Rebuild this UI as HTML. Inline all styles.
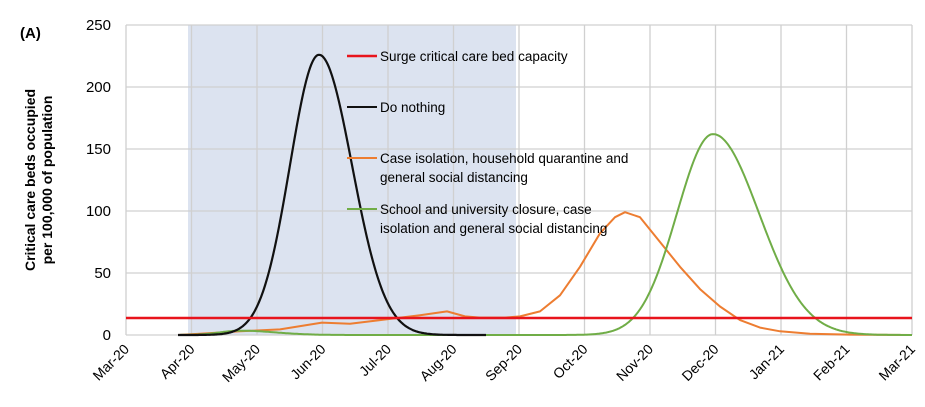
<!DOCTYPE html>
<html><head><meta charset="utf-8"><style>
body{margin:0;background:#fff;}
svg{font-family:"Liberation Sans",sans-serif;}
</style></head><body>
<svg id="s" width="925" height="402" xmlns="http://www.w3.org/2000/svg">
<rect x="188" y="25" width="328" height="310" fill="#dce3f0"/>
<g id="grid" stroke="#d0d0d0" stroke-width="1.3"></g>
<line x1="126" y1="25" x2="126" y2="335" stroke="#d0d0d0" stroke-width="1.3"/>
<g font-size="15" fill="#000" text-anchor="end">
<text x="111" y="30">250</text><text x="111" y="92">200</text><text x="111" y="154">150</text>
<text x="111" y="216">100</text><text x="111" y="278">50</text><text x="111" y="340">0</text>
</g>
<text x="20" y="38" font-size="15" font-weight="bold">(A)</text>
<g font-size="14" font-weight="bold" text-anchor="middle">
<text transform="translate(35,180) rotate(-90)">Critical care beds occupied</text>
<text transform="translate(52,180) rotate(-90)">per 100,000 of population</text>
</g>
<g id="xl" font-size="14" text-anchor="end"></g>
<path id="orange" fill="none" stroke="#ed7d31" stroke-width="2" stroke-linejoin="round"/>
<path id="green" fill="none" stroke="#70ad47" stroke-width="2"/>
<path id="black" fill="none" stroke="#111" stroke-width="2.2"/>
<line x1="126" y1="318" x2="912" y2="318" stroke="#e8141c" stroke-width="2.5"/>
<g font-size="13.5">
<line x1="347" y1="56" x2="377" y2="56" stroke="#e8141c" stroke-width="2.5"/>
<text x="380" y="61">Surge critical care bed capacity</text>
<line x1="347" y1="107" x2="377" y2="107" stroke="#111" stroke-width="2"/>
<text x="380" y="112">Do nothing</text>
<line x1="347" y1="158" x2="377" y2="158" stroke="#ed7d31" stroke-width="2"/>
<text x="380" y="163">Case isolation, household quarantine and</text>
<text x="380" y="182">general social distancing</text>
<line x1="347" y1="209" x2="377" y2="209" stroke="#70ad47" stroke-width="2"/>
<text x="380" y="214">School and university closure, case</text>
<text x="380" y="233">isolation and general social distancing</text>
</g>
</svg>
<script>
var ns="http://www.w3.org/2000/svg",g=document.getElementById('grid'),xl=document.getElementById('xl');
var labs=["Mar-20","Apr-20","May-20","Jun-20","Jul-20","Aug-20","Sep-20","Oct-20","Nov-20","Dec-20","Jan-21","Feb-21","Mar-21"];
function X(i){return 126+i*65.5;}
for(var v=0;v<=250;v+=50){var l=document.createElementNS(ns,'line');var y=335-v*1.24;l.setAttribute('x1',126);l.setAttribute('x2',912);l.setAttribute('y1',y);l.setAttribute('y2',y);g.appendChild(l);}
for(var i=1;i<13;i++){var l=document.createElementNS(ns,'line');l.setAttribute('x1',X(i));l.setAttribute('x2',X(i));l.setAttribute('y1',25);l.setAttribute('y2',335);g.appendChild(l);}
for(var i=0;i<13;i++){var t=document.createElementNS(ns,'text');t.setAttribute('transform','translate('+(X(i)+4)+',350) rotate(-45)');t.textContent=labs[i];xl.appendChild(t);}
function ga(x,m,a,sl,sr){var s=x<m?sl:sr;return a*Math.exp(-0.5*Math.pow((x-m)/s,2));}
function path(f,x0,x1){var d='';for(var x=x0;x<=x1;x+=1){var y=335-f(x)*1.24;d+=(d?'L':'M')+x+' '+y.toFixed(1);}return d;}
document.getElementById('black').setAttribute('d',path(function(x){return ga(x,319,226,29,33);},178,486));
var op=[[178,0],[200,1],[240,3],[280,4.5],[322,10],[350,9],[380,12],[420,16],[447,19],[465,15],[480,14],[505,14],[520,15],[540,19],[560,32],[580,55],[600,82],[615,95],[625,99],[640,95],[660,75],[680,55],[700,37],[720,23],[740,12],[760,6],[780,3],[810,1],[850,0.3],[912,0]];
var d='';op.forEach(function(p){d+=(d?'L':'M')+p[0]+' '+(335-p[1]*1.24).toFixed(1);});
document.getElementById('orange').setAttribute('d',d);
document.getElementById('green').setAttribute('d',path(function(x){return ga(x,240,3.5,20,35)+ga(x,713,162,36,46);},178,912));
</script>
</body></html>
